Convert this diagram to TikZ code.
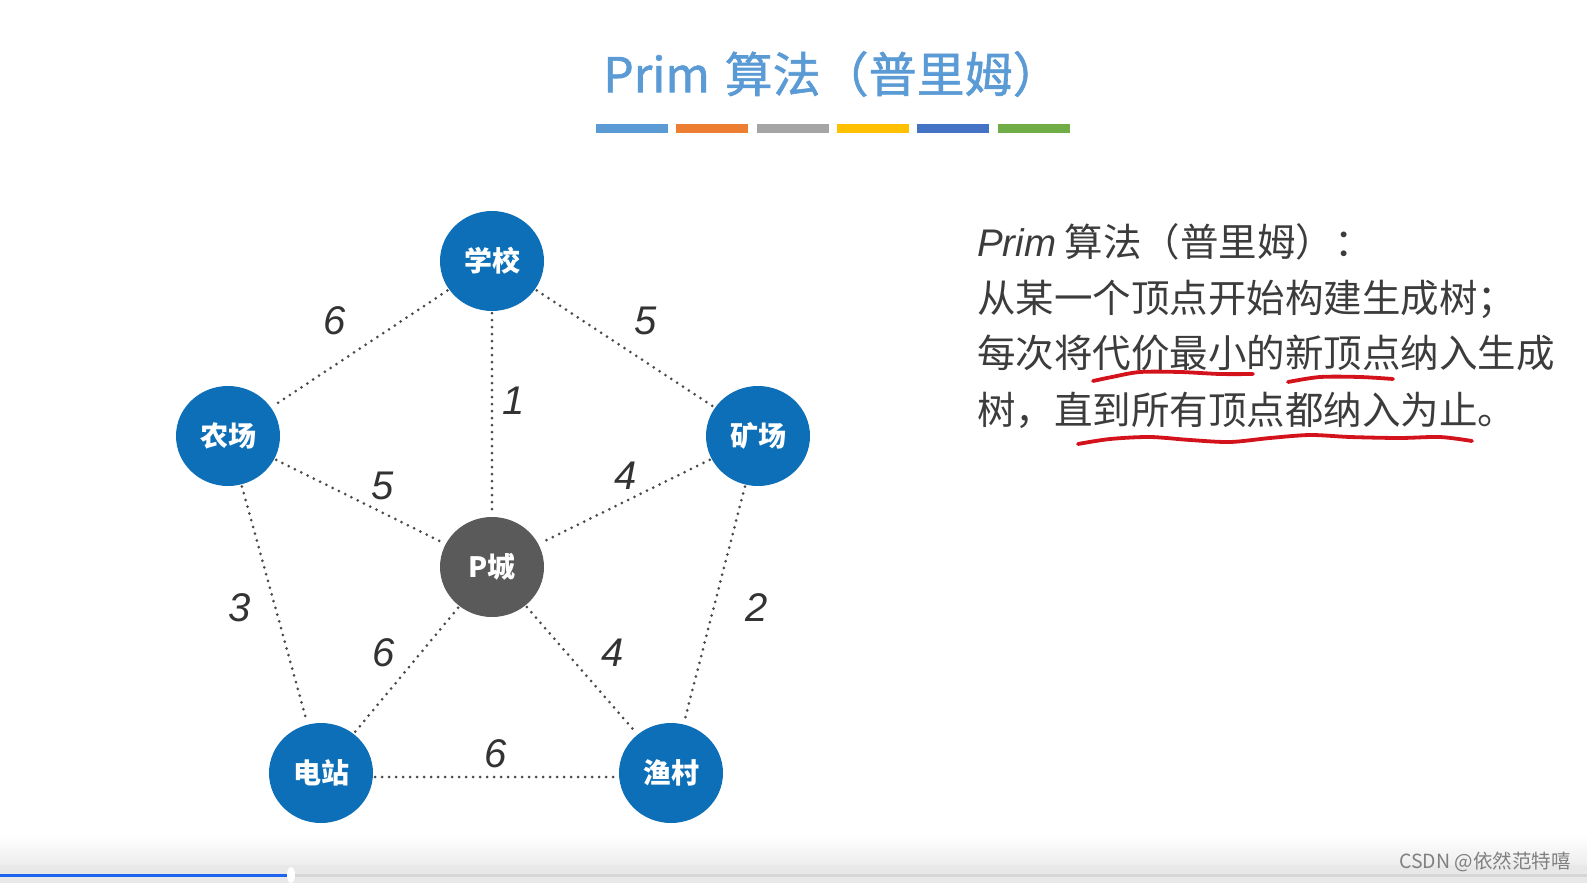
\documentclass[tikz,border=0pt]{standalone}
\usepackage{fontspec}
\setmainfont{Liberation Sans}
\newfontfamily\cjk{Noto Sans CJK SC}
\newfontfamily\cjktitle{Noto Sans CJK SC}[FakeBold=1.2]
\usetikzlibrary{shapes.geometric}
\definecolor{titleblue}{HTML}{5B9BD5}
\definecolor{barA}{HTML}{5B9BD5}
\definecolor{barB}{HTML}{ED7D31}
\definecolor{barC}{HTML}{A5A5A5}
\definecolor{barD}{HTML}{FFC000}
\definecolor{barE}{HTML}{4472C4}
\definecolor{barF}{HTML}{70AD47}
\definecolor{nodeblue}{HTML}{0C6FB7}
\definecolor{pgray}{HTML}{5A5A5A}
\definecolor{edgegray}{HTML}{4A4A4A}
\definecolor{labelgray}{HTML}{333333}
\definecolor{textgray}{HTML}{3C3C3C}
\definecolor{penred}{HTML}{D3121C}
\definecolor{progblue}{HTML}{1E64F0}
\begin{document}
\begin{tikzpicture}[x=1pt,y=-1pt,
  city/.style={ellipse, fill=nodeblue, minimum width=104pt, minimum height=100pt, inner sep=0pt,
    text=white, font=\cjk\bfseries\fontsize{28}{30}\selectfont},
  road/.style={draw=edgegray, line width=3pt, dash pattern=on 0pt off 7pt, line cap=round, shorten <=2pt, shorten >=2pt},
  wt/.style={font=\itshape\fontsize{40}{40}\selectfont, text=labelgray, inner sep=0pt},
  desc/.style={anchor=base west, inner sep=0pt, text=textgray, font=\cjk\fontsize{38.5}{44}\selectfont},
  pen/.style={draw=penred, line width=3.8pt, line cap=round, line join=round}]
\useasboundingbox (0,0) rectangle (1587,883);
\fill[white] (0,0) rectangle (1587,883);
% bottom player strip
\shade[top color=white, bottom color=black!7] (0,835) rectangle (1587,865);
\fill[black!9] (0,865) rectangle (1587,883);
\draw[line width=3pt, black!16] (291,875) -- (1587,875);
\draw[line width=3pt, progblue] (0,875) -- (291,875);
\fill[white] (291,875) ellipse (4 and 8);
\node[anchor=east, text=black!50, inner sep=0pt, font=\cjk\fontsize{19.5}{22}\selectfont] (wm) at (1571,862) {CSDN @依然范特嘻};

% title
\node[text=titleblue, inner sep=0pt, font=\cjktitle\fontsize{48}{52}\selectfont] (title) at (832,74) {Prim\hspace{4pt} 算法（普里姆）};
\foreach \c [count=\i from 0] in {barA,barB,barC,barD,barE,barF}
  \fill[\c] ({596+80.3*\i},124) rectangle ++(72,9);

% nodes
\node[city] (xx) at (492,261) {学校};
\node[city] (nc) at (228,436) {农场};
\node[city] (kc) at (758,436) {矿场};
\node[city, fill=pgray] (pc) at (492,567) {P城};
\node[city] (dz) at (321,773) {电站};
\node[city] (yc) at (671,773) {渔村};

% edges
\draw[road] (xx) -- (nc);
\draw[road] (xx) -- (kc);
\draw[road] (xx) -- (pc);
\draw[road] (nc) -- (pc);
\draw[road] (kc) -- (pc);
\draw[road] (nc) -- (dz);
\draw[road] (kc) -- (yc);
\draw[road] (pc) -- (dz);
\draw[road] (pc) -- (yc);
\draw[road] ([yshift=-4pt]dz.east) -- ([yshift=-4pt]yc.west);

% weights
\node[wt] (w1) at (335,321) {6};
\node[wt] (w2) at (646,321) {5};
\node[wt] (w3) at (514,401) {1};
\node[wt] (w4) at (383,486) {5};
\node[wt] (w5) at (626,476) {4};
\node[wt] (w6) at (240,608) {3};
\node[wt] (w7) at (757,608) {2};
\node[wt] (w8) at (384,653) {6};
\node[wt] (w9) at (613,653) {4};
\node[wt] (w10) at (496,754) {6};

% description
\node[desc] (d1) at (977,256) {{\rmfamily\itshape Prim} 算法（普里姆）：};
\node[desc] (d2) at (977,312) {从某一个顶点开始构建生成树；};
\node[desc] (d3) at (977,367) {每次将代价最小的新顶点纳入生成};
\node[desc] (d4) at (977,424) {树，直到所有顶点都纳入为止。};

% red underlines
\draw[pen] plot[smooth] coordinates {(1093,381) (1112,377) (1140,372) (1180,372) (1220,374) (1253,374)};
\draw[pen] plot[smooth] coordinates {(1288,382) (1320,377) (1360,377) (1393,379)};
\draw[pen] plot[smooth] coordinates {(1078,444) (1110,439) (1150,437) (1190,440) (1230,442) (1270,438) (1310,435) (1350,437) (1400,438) (1440,437) (1472,441)};
\end{tikzpicture}
\end{document}
